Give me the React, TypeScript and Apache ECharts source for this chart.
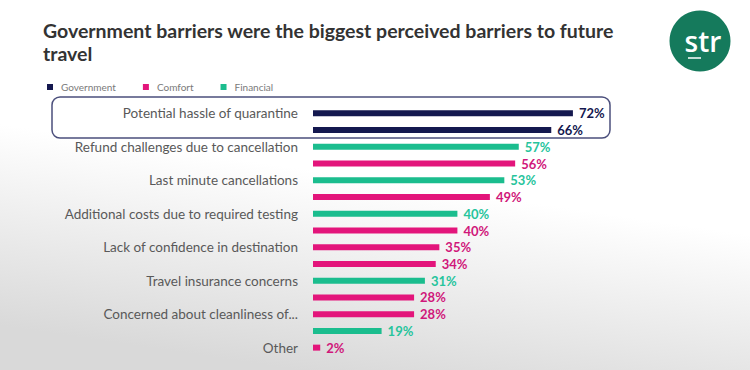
import React, { useEffect, useRef } from "react";
import * as echarts from "echarts";

const categories = [
  "Potential hassle of quarantine",
  "",
  "Refund challenges due to cancellation",
  "",
  "Last minute cancellations",
  "",
  "Additional costs due to required testing",
  "",
  "Lack of confidence in destination",
  "",
  "Travel insurance concerns",
  "",
  "Concerned about cleanliness of...",
  "",
  "Other",
];

const values = [72, 66, 57, 56, 53, 49, 40, 40, 35, 34, 31, 28, 28, 19, 2];
const groups = ["G", "G", "F", "C", "F", "C", "F", "C", "C", "C", "F", "C", "C", "F", "C"];

const seriesNames = ["Government", "Comfort", "Financial"];
const seriesKeys = ["G", "C", "F"];
const seriesColors = ["#14184f", "#e3157b", "#1bbd8e"];
const labelColors = ["#14184f", "#d0177a", "#27c49c"];

const titleText = "Government barriers were the biggest perceived barriers to future\ntravel";

export default function App() {
  const ref = useRef<HTMLDivElement>(null);

  useEffect(() => {
    if (!ref.current) return;
    const chart = echarts.init(ref.current, null, { renderer: "svg" });

    const series = seriesKeys.map((k, i) => ({
      name: seriesNames[i],
      type: "bar",
      stack: "all",
      barWidth: 6,
      itemStyle: { color: seriesColors[i] },
      label: {
        show: true,
        position: "right",
        distance: 6,
        formatter: "{c}%",
        color: labelColors[i],
        fontWeight: "bold",
        fontSize: 13,
        fontFamily: "Lato",
      },
      data: values.map((v, j) => (groups[j] === k ? v : null)),
    }));

    chart.setOption({
      animation: false,
      backgroundColor: {
        type: "linear",
        x: 0.55,
        y: 0.5,
        x2: 0.4,
        y2: 1,
        colorStops: [
          { offset: 0, color: "#ffffff" },
          { offset: 1, color: "#d9d9d9" },
        ],
      },
      title: {
        text: titleText,
        left: 38,
        top: 14,
        textStyle: {
          fontFamily: "Lato",
          fontWeight: "bold",
          fontSize: 19.5,
          color: "#333333",
          lineHeight: 23,
        },
      },
      legend: {
        data: seriesNames,
        left: 42,
        top: 77,
        icon: "rect",
        itemWidth: 6,
        itemHeight: 6,
        itemGap: 27,
        textStyle: { fontFamily: "Lato", fontSize: 10, color: "#7a7a7a", padding: [0, 0, 0, 3] },
      },
      grid: {
        left: 313,
        right: 76,
        top: 105,
        bottom: 14,
        outerBoundsMode: "none",
      },
      xAxis: {
        type: "value",
        min: 0,
        max: 100,
        show: false,
      },
      yAxis: {
        type: "category",
        data: categories,
        inverse: true,
        axisLine: { show: false },
        axisTick: { show: false },
        axisLabel: {
          interval: 0,
          margin: 15,
          fontFamily: "Lato",
          fontSize: 13.5,
          color: "#595959",
        },
      },
      graphic: [
        {
          type: "rect",
          shape: { x: 52, y: 97, width: 558, height: 41, r: 8 },
          style: { fill: "none", stroke: "#4b4f7c", lineWidth: 1.5 },
          z: 10,
        },
        {
          type: "circle",
          shape: { cx: 700, cy: 41, r: 30.5 },
          style: { fill: "#157a5c" },
        },
        {
          type: "text",
          x: 703,
          y: 41,
          style: {
            text: "str",
            fill: "#ffffff",
            font: "600 28px 'Open Sans'",
            align: "center",
            verticalAlign: "middle",
          },
        },
        {
          type: "line",
          shape: { x1: 688, y1: 58, x2: 701, y2: 58 },
          style: { stroke: "#ffffff", lineWidth: 1.5 },
        },
      ],
      series,
    });

    return () => chart.dispose();
  }, []);

  return (
    <div
      ref={ref}
      style={{ position: "fixed", left: 0, top: 0, width: 750, height: 370 }}
    />
  );
}
